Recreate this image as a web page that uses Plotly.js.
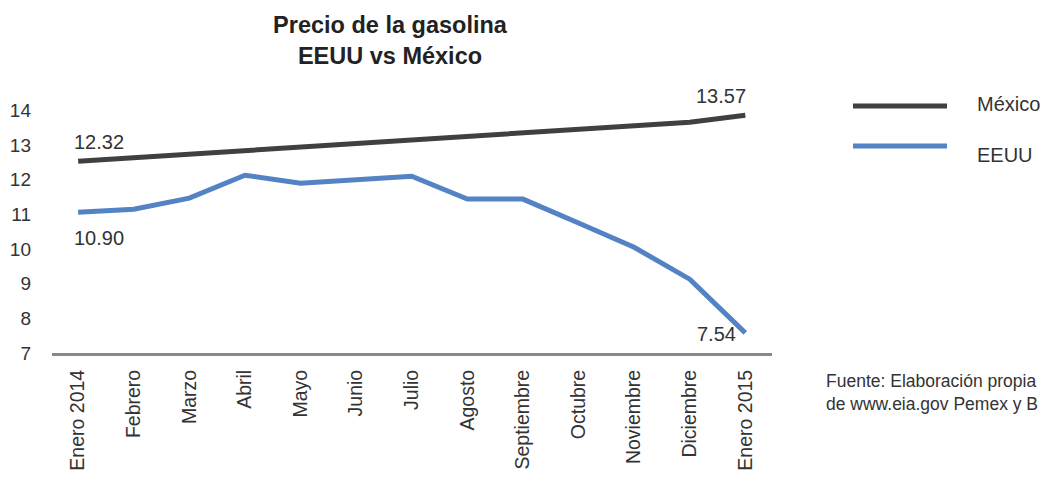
<!DOCTYPE html>
<html>
<head>
<meta charset="utf-8">
<script src="https://cdn.plot.ly/plotly-3.0.1.min.js"></script>
<style>html,body{margin:0;padding:0;background:#fff;}#chart{width:1044px;height:477px;}</style>
</head>
<body>
<div id="chart"></div>
<script>
const months = ["Enero 2014","Febrero","Marzo","Abril","Mayo","Junio","Julio","Agosto","Septiembre","Octubre","Noviembre","Diciembre","Enero 2015"];
const mexico = [12.53,12.63,12.74,12.84,12.94,13.04,13.15,13.25,13.35,13.45,13.56,13.66,13.86];
const eeuu = [11.06,11.15,11.47,12.13,11.90,11.99,12.10,11.44,11.44,10.75,10.05,9.13,7.58];
const seriesNames = ["México","EEUU"];
const seriesColors = ["#404040","#5383c4"];
const pointLabels = {mexStart:"12.32", mexEnd:"13.57", usStart:"10.90", usEnd:"7.54"};
const yTicks = [7,8,9,10,11,12,13,14];
const titleText = "Precio de la gasolina<br>EEUU vs México";
const sourceText = "Fuente: Elaboración propia<br>de www.eia.gov Pemex y B";

const xIdx = months.map((_, i) => i);
const font = "Liberation Sans, Arial, sans-serif";
const txt = "#333333";

const traces = [
  {x: xIdx, y: mexico, type: "scatter", mode: "lines", name: seriesNames[0],
   line: {color: seriesColors[0], width: 5}, showlegend: false, hoverinfo: "skip"},
  {x: xIdx, y: eeuu, type: "scatter", mode: "lines", name: seriesNames[1],
   line: {color: seriesColors[1], width: 5}, showlegend: false, hoverinfo: "skip"}
];

const L = 52, R = 272, T = 100, B = 124, W = 1044, H = 477;
const pw = W - L - R, ph = H - T - B;
function px(xp){ return (xp - L) / pw; }
function py(yp){ return (H - B - yp) / ph; }

const last = months.length - 1;
const lblFont = {family: font, size: 20, color: txt};
const annotations = [
  {x: 0, y: mexico[0], xref: "x", yref: "y", text: pointLabels.mexStart, showarrow: false,
   xanchor: "left", yanchor: "middle", xshift: -6, yshift: 19, font: lblFont},
  {x: 0, y: eeuu[0], xref: "x", yref: "y", text: pointLabels.usStart, showarrow: false,
   xanchor: "left", yanchor: "middle", xshift: -6, yshift: -26, font: lblFont},
  {x: last, y: mexico[last], xref: "x", yref: "y", text: pointLabels.mexEnd, showarrow: false,
   xanchor: "right", yanchor: "middle", xshift: 3, yshift: 19, font: lblFont},
  {x: last, y: eeuu[last], xref: "x", yref: "y", text: pointLabels.usEnd, showarrow: false,
   xanchor: "right", yanchor: "middle", xshift: -7, yshift: -1, font: lblFont},
  {x: px(975), y: py(104), xref: "paper", yref: "paper", text: seriesNames[0], showarrow: false,
   xanchor: "left", yanchor: "middle", font: {family: font, size: 20, color: txt}},
  {x: px(975), y: py(155), xref: "paper", yref: "paper", text: seriesNames[1], showarrow: false,
   xanchor: "left", yanchor: "middle", font: {family: font, size: 20, color: txt}},
  {x: px(824), y: py(392), xref: "paper", yref: "paper", text: sourceText, showarrow: false,
   xanchor: "left", yanchor: "middle", align: "left", font: {family: font, size: 17.5, color: txt}}
];

const shapes = [
  {type: "line", xref: "paper", yref: "paper", x0: px(853), x1: px(947), y0: py(106), y1: py(106),
   line: {color: seriesColors[0], width: 5}},
  {type: "line", xref: "paper", yref: "paper", x0: px(853), x1: px(947), y0: py(146), y1: py(146),
   line: {color: seriesColors[1], width: 5}}
];

const layout = {
  width: W, height: H,
  margin: {l: L, r: R, t: T, b: B, pad: 0},
  paper_bgcolor: "#ffffff", plot_bgcolor: "#ffffff",
  font: {family: font, color: txt},
  title: {text: titleText, x: 390/W, xref: "container", xanchor: "center",
          y: 1 - 33/H, yref: "container", yanchor: "middle",
          font: {family: font, size: 23.5, color: "#222222", weight: "bold"}},
  xaxis: {range: [-0.47, last + 0.48], tickvals: xIdx, ticktext: months, tickangle: -90,
          showgrid: false, zeroline: false, showline: true, linecolor: "#888888", linewidth: 3,
          ticks: "", ticklabelstandoff: 6, tickfont: {family: font, size: 19.5, color: txt},
          fixedrange: true},
  yaxis: {range: [7, 14.3], tickvals: yTicks, showgrid: false, zeroline: false, showline: false,
          ticks: "", ticklabelstandoff: 20, tickfont: {family: font, size: 19, color: txt},
          fixedrange: true},
  annotations: annotations,
  shapes: shapes,
  showlegend: false
};

Plotly.newPlot("chart", traces, layout, {displayModeBar: false, staticPlot: true});
</script>
</body>
</html>
